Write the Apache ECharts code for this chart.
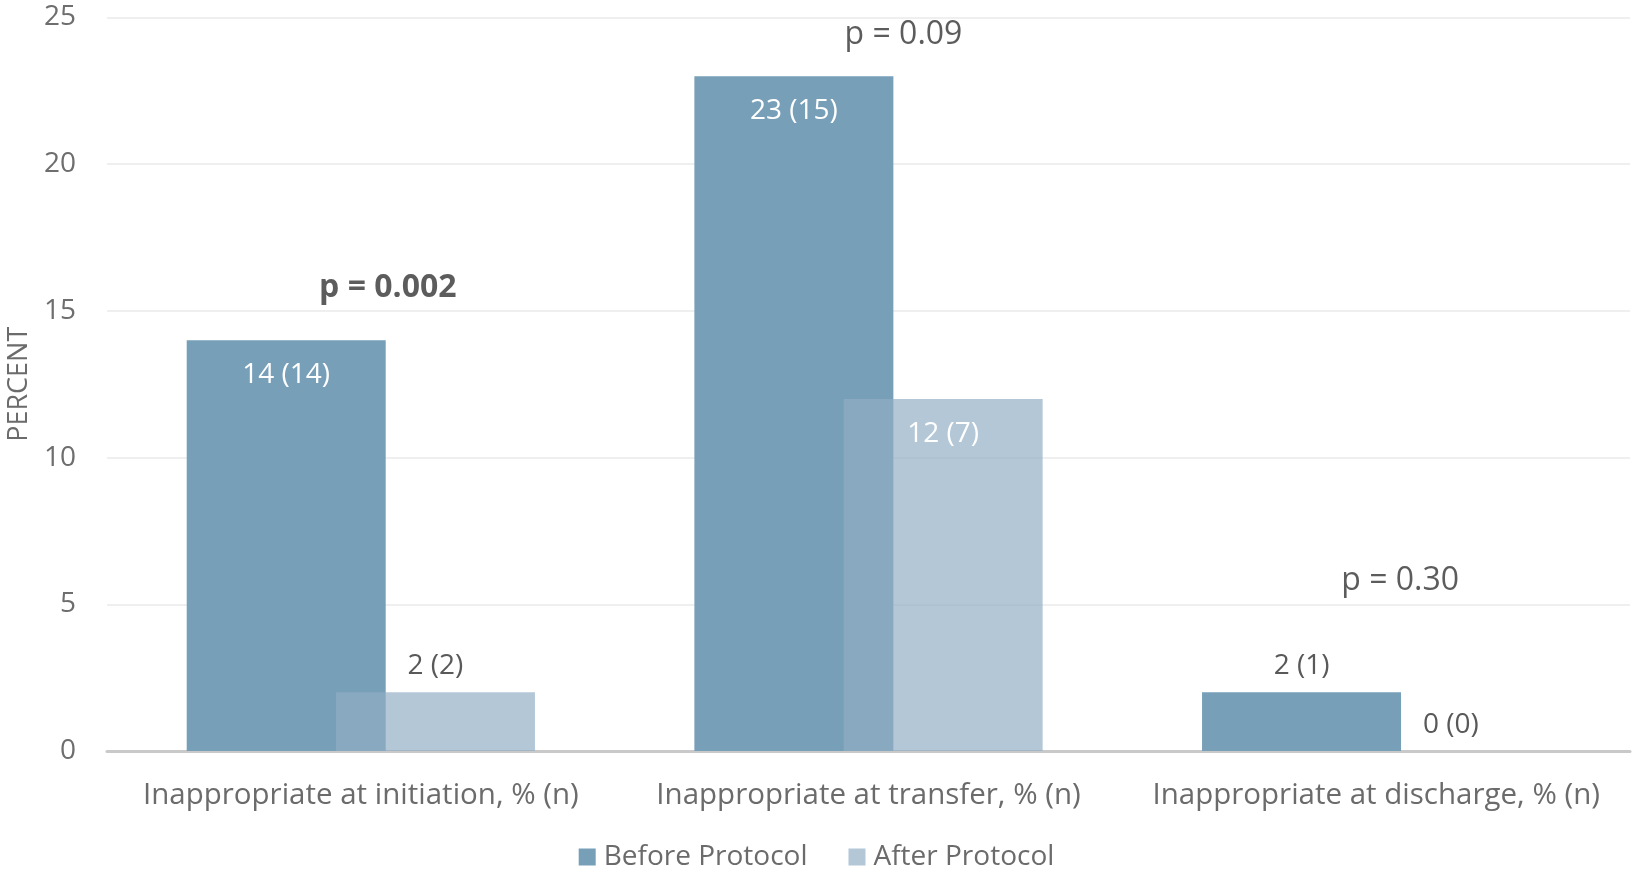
<!DOCTYPE html>
<html>
<head>
<meta charset="utf-8">
<script src="https://cdn.jsdelivr.net/npm/echarts@6/dist/echarts.min.js"></script>
<style>
  html, body { margin: 0; padding: 0; background: #ffffff; }
  #chart { width: 1633px; height: 873px; }
</style>
</head>
<body>
<div id="chart"></div>
<script>
// Categories and values
const categories = [
  'Inappropriate at initiation, % (n)',
  'Inappropriate at transfer, % (n)',
  'Inappropriate at discharge, % (n)'
];
const seriesNames = ['Before Protocol', 'After Protocol'];
const beforePct = [14, 23, 2];
const beforeN = [14, 15, 1];
const afterPct = [2, 12, 0];
const afterN = [2, 7, 0];

// p-value annotations and the height (in percent units) where each sits
const pLabels = ['p = 0.002', 'p = 0.09', 'p = 0.30'];
const pBold = [true, false, false];
const pLabelY = [15.8, 24.4, 5.8];

// Value axis ticks
const yMin = 0, yMax = 25, yStep = 5;

const FONT = '"Open Sans", "Noto Sans", sans-serif';
const pOffsetX = [27, 35, 24];

function barLabel(pct, n, i) {
  const inside = pct[i] >= 10;
  return {
    show: true,
    position: inside ? 'insideTop' : 'top',
    distance: inside ? 21 : 12,
    color: inside ? '#ffffff' : '#595959',
    fontSize: 28,
    fontFamily: FONT,
    formatter: () => pct[i] + ' (' + n[i] + ')'
  };
}

const chart = echarts.init(document.getElementById('chart'), null, { renderer: 'canvas' });

chart.setOption({
  animation: false,
  backgroundColor: '#ffffff',
  textStyle: { fontFamily: FONT },
  grid: {
    left: 107, right: 3, top: 17.5, bottom: 122,
    containLabel: false,
    outerBoundsMode: 'none'
  },
  legend: {
    data: seriesNames,
    bottom: -3,
    left: 'center',
    itemWidth: 17,
    itemHeight: 17,
    itemGap: 41,
    icon: 'rect',
    textStyle: { color: '#6b6b6b', fontSize: 28, fontFamily: FONT, padding: [0, 0, 0, 3] }
  },
  xAxis: {
    type: 'category',
    data: categories,
    axisLine: { show: true, lineStyle: { color: '#c9c9c9', width: 3 } },
    axisTick: { show: false },
    axisLabel: { color: '#6b6b6b', fontSize: 29.5, fontFamily: FONT, margin: 30, interval: 0 }
  },
  yAxis: {
    type: 'value',
    min: yMin,
    max: yMax,
    interval: yStep,
    name: 'PERCENT',
    nameLocation: 'middle',
    nameGap: 73,
    nameRotate: 90,
    nameTextStyle: { color: '#6b6b6b', fontSize: 27, fontFamily: FONT },
    axisLine: { show: false },
    axisTick: { show: false },
    axisLabel: { color: '#6e6e6e', fontSize: 28, fontFamily: FONT, margin: 31 },
    splitLine: { lineStyle: { color: '#efefef', width: 2 } }
  },
  series: [
    {
      name: seriesNames[0],
      type: 'bar',
      barWidth: 199,
      barGap: '-25%',
      itemStyle: { color: '#779fb8' },
      data: beforePct.map((v, i) => ({ value: v, label: barLabel(beforePct, beforeN, i) }))
    },
    {
      name: seriesNames[1],
      type: 'bar',
      barWidth: 199,
      barGap: '-25%',
      itemStyle: { color: 'rgba(145,174,197,0.69)' },
      data: afterPct.map((v, i) => ({ value: v, label: barLabel(afterPct, afterN, i) }))
    },
    {
      name: 'p-values',
      type: 'scatter',
      symbolSize: 0,
      silent: true,
      z: 5,
      data: pLabels.map((t, i) => ({
        value: [i, pLabelY[i]],
        label: {
          show: true,
          position: 'inside',
          offset: [pOffsetX[i], 0],
          formatter: t,
          color: '#333333',
          fontSize: 32,
          fontWeight: pBold[i] ? 'bold' : 'normal',
          fontFamily: FONT
        }
      }))
    }
  ]
});
</script>
</body>
</html>
